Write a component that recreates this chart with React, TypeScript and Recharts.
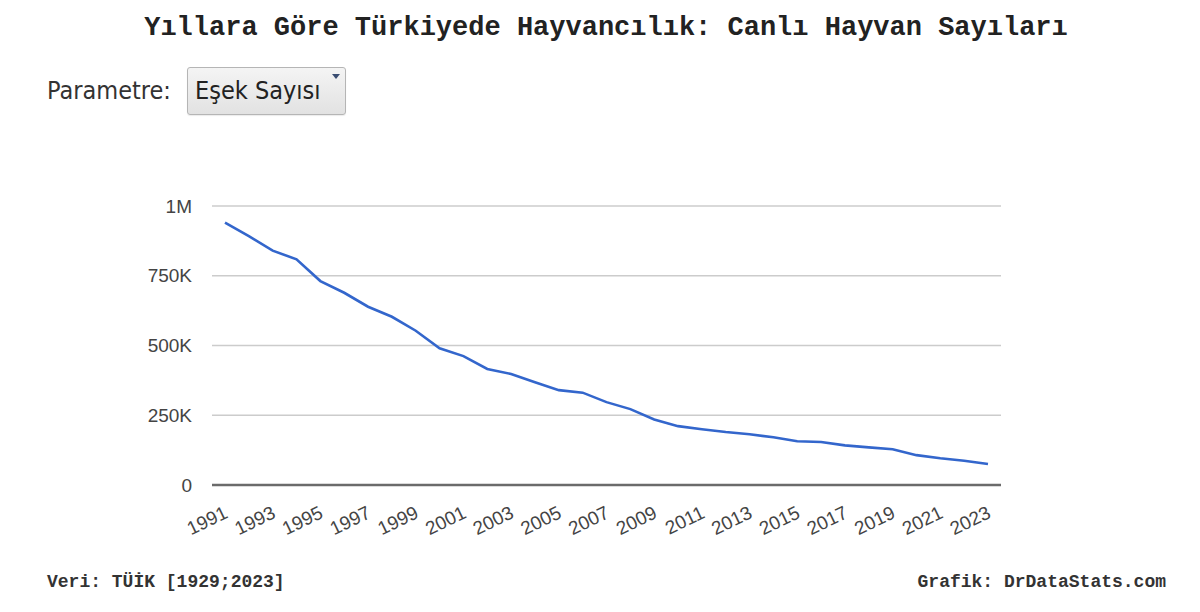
import React from "react";
import { LineChart, Line, XAxis, YAxis, CartesianGrid } from "recharts";

const years = [
  "1991", "1992", "1993", "1994", "1995", "1996", "1997", "1998", "1999", "2000",
  "2001", "2002", "2003", "2004", "2005", "2006", "2007", "2008", "2009", "2010",
  "2011", "2012", "2013", "2014", "2015", "2016", "2017", "2018", "2019", "2020",
  "2021", "2022", "2023",
];

const donkeyCounts = [
  940000, 892000, 840000, 809000, 731000, 689000, 639000, 603000, 553000, 490000,
  462000, 416000, 398000, 368000, 340000, 331000, 297000, 272000, 235000, 211000,
  200000, 190000, 182000, 171000, 157000, 154000, 142000, 135000, 128000, 107000,
  96000, 87000, 75000,
];

const yTicks = [0, 250000, 500000, 750000, 1000000];
const yTickLabels = ["0", "250K", "500K", "750K", "1M"];

const titleText = "Yıllara Göre Türkiyede Hayvancılık: Canlı Hayvan Sayıları";
const paramLabel = "Parametre:";
const paramValue = "Eşek Sayısı";
const sourceText = "Veri: TÜİK [1929;2023]";
const creditText = "Grafik: DrDataStats.com";

const data = years.map((y, i) => ({ year: y, value: donkeyCounts[i] }));

const mono = "'Liberation Mono', 'Courier New', monospace";
const sans = "'Liberation Sans', Arial, sans-serif";
const uiFont = "'DejaVu Sans Condensed', 'DejaVu Sans', sans-serif";

const XTick = (props: any) => {
  const { x, y, payload } = props;
  const bx = x + 4;
  const by = y + 22;
  return (
    <text
      x={bx}
      y={by}
      textAnchor="end"
      fill="#444"
      fontSize={19}
      fontFamily={sans}
      transform={`rotate(-26, ${bx}, ${by})`}
    >
      {payload.value}
    </text>
  );
};

const formatY = (v: number) => {
  const idx = yTicks.indexOf(v);
  return idx >= 0 ? yTickLabels[idx] : String(v);
};

export default function App() {
  return (
    <div
      style={{
        position: "absolute",
        left: 0,
        top: 0,
        width: 1200,
        height: 612,
        background: "#fff",
        overflow: "hidden",
      }}
    >
      <div style={{ position: "absolute", left: 0, top: 0 }}>
        <LineChart
          width={1200}
          height={612}
          data={data}
          margin={{ top: 206, right: 199, bottom: 67, left: 152 }}
        >
          <CartesianGrid vertical={false} stroke="#cccccc" strokeWidth={1.3} />
          <XAxis
            dataKey="year"
            type="category"
            interval={1}
            height={60}
            padding={{ left: 13, right: 13 }}
            axisLine={{ stroke: "#6b6b6b", strokeWidth: 2.5 }}
            tickLine={false}
            tickSize={8}
            tickMargin={2}
            tick={<XTick />}
          />
          <YAxis
            type="number"
            domain={[0, 1000000]}
            ticks={yTicks}
            width={60}
            axisLine={false}
            tickLine={false}
            tickSize={10}
            tickMargin={10}
            tickFormatter={formatY}
            tick={{ fill: "#444", fontSize: 19, fontFamily: sans }}
            interval={0}
          />
          <Line
            type="linear"
            dataKey="value"
            stroke="#3366cc"
            strokeWidth={2.6}
            dot={false}
            activeDot={false}
            isAnimationActive={false}
          />
        </LineChart>
      </div>

      <div
        style={{
          position: "absolute",
          left: 0,
          width: 1212,
          top: 15,
          textAlign: "center",
          fontFamily: mono,
          fontWeight: "bold",
          fontSize: 27,
          lineHeight: "27px",
          color: "#222",
          whiteSpace: "nowrap",
        }}
      >
        {titleText}
      </div>

      <div
        style={{
          position: "absolute",
          left: 47,
          top: 78,
          fontFamily: uiFont,
          fontStretch: "condensed",
          fontSize: 25,
          lineHeight: "25px",
          color: "#333",
          whiteSpace: "nowrap",
        }}
      >
        {paramLabel}
      </div>

      <div
        style={{
          position: "absolute",
          left: 187,
          top: 67,
          width: 159,
          height: 48,
          boxSizing: "border-box",
          border: "1px solid #b5b5b5",
          borderRadius: 3,
          background: "linear-gradient(#f4f4f4, #e2e2e2)",
          boxShadow: "0 1px 1px rgba(0,0,0,0.08)",
        }}
      >
        <div
          style={{
            position: "absolute",
            left: 7,
            top: 10,
            fontFamily: uiFont,
            fontStretch: "condensed",
            fontSize: 25,
            lineHeight: "25px",
            color: "#222",
            whiteSpace: "nowrap",
          }}
        >
          {paramValue}
        </div>
        <div
          style={{
            position: "absolute",
            left: 144,
            top: 6,
            width: 0,
            height: 0,
            borderLeft: "4px solid transparent",
            borderRight: "4px solid transparent",
            borderTop: "5px solid #3a4d72",
          }}
        />
      </div>

      <div
        style={{
          position: "absolute",
          left: 47,
          top: 573,
          fontFamily: mono,
          fontWeight: "bold",
          fontSize: 18,
          lineHeight: "18px",
          color: "#333",
          whiteSpace: "nowrap",
        }}
      >
        {sourceText}
      </div>
      <div
        style={{
          position: "absolute",
          right: 34,
          top: 573,
          fontFamily: mono,
          fontWeight: "bold",
          fontSize: 18,
          lineHeight: "18px",
          color: "#333",
          whiteSpace: "nowrap",
        }}
      >
        {creditText}
      </div>
    </div>
  );
}
